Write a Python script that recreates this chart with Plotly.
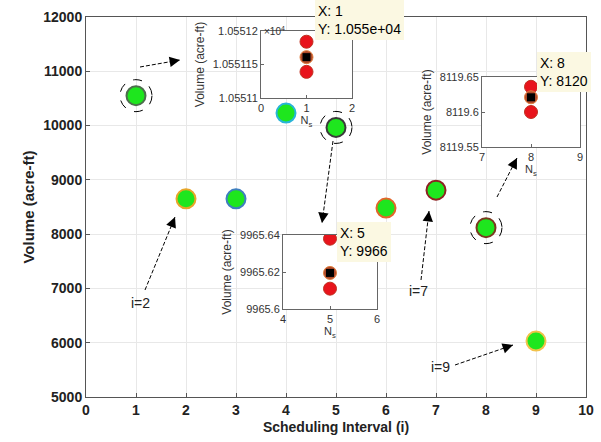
import plotly.graph_objects as go

# ---- main data ----
intervals = [1, 2, 3, 4, 5, 6, 7, 8, 9]
volumes = [10551, 8650, 8650, 10230, 9966, 8480, 8810, 8120, 6030]
edge_colors = ["#4d6e4d", "#e8a628", "#3f7fbf", "#28b4d8", "#3a3a3a",
               "#e2662a", "#8e2222", "#7a3a20", "#f2c24a"]
circled = [1, 5, 8]

x_ticks = list(range(0, 11))
y_ticks = list(range(5000, 12001, 1000))

# ---- inset data ----
in1_x = [1, 1, 1]
in1_y = [10551.184, 10551.161, 10551.139]
in1_ytick = [10551.1, 10551.15, 10551.2]
in1_ytext = ["1.05511", "1.055115", "1.05512"]

in2_x = [5, 5, 5]
in2_y = [9965.638, 9965.6195, 9965.611]
in2_ytick = [9965.6, 9965.62, 9965.64]
in2_ytext = ["9965.6", "9965.62", "9965.64"]

in3_x = [8, 8, 8]
in3_y = [8119.636, 8119.621, 8119.60]
in3_ytick = [8119.55, 8119.6, 8119.65]
in3_ytext = ["8119.55", "8119.6", "8119.65"]

GREEN = "#1ee61e"
FONT = "Liberation Sans, Arial, sans-serif"

fig = go.Figure()

fig.add_trace(go.Scatter(
    x=intervals, y=volumes, mode="markers",
    marker=dict(size=19, color=GREEN, line=dict(color=edge_colors, width=2)),
    xaxis="x", yaxis="y", showlegend=False, hoverinfo="x+y"))

def inset(xs, ys, xa, ya):
    fig.add_trace(go.Scatter(x=[xs[0], xs[2]], y=[ys[0], ys[2]], mode="markers",
                             marker=dict(size=13, color="#e8141c", line=dict(color="#c03020", width=1)),
                             xaxis=xa, yaxis=ya, showlegend=False))
    fig.add_trace(go.Scatter(x=[xs[1]], y=[ys[1]], mode="markers",
                             marker=dict(size=13, color="#b04a2a", line=dict(color="#e08040", width=1)),
                             xaxis=xa, yaxis=ya, showlegend=False))
    fig.add_trace(go.Scatter(x=[xs[1]], y=[ys[1]], mode="markers",
                             marker=dict(size=8, color="black", symbol="square"),
                             xaxis=xa, yaxis=ya, showlegend=False))

inset(in1_x, in1_y, "x2", "y2")
inset(in2_x, in2_y, "x3", "y3")
inset(in3_x, in3_y, "x4", "y4")

L, R, T, B = 86, 15, 17, 45
W, H = 601, 442
pw, ph = W - L - R, H - T - B

def px(xp):
    return (xp - L) / pw

def py(yp):
    return (H - B - yp) / ph

main_ax = dict(showline=True, linecolor="#555555", linewidth=1, mirror=True,
               ticks="inside", ticklen=4, tickcolor="#555555",
               showgrid=True, gridcolor="#e8e8e8", zeroline=False, automargin=False)

inset_ax = dict(showline=True, linecolor="#666666", linewidth=1, mirror=True,
                ticks="inside", ticklen=3, tickcolor="#666666",
                showgrid=False, zeroline=False, automargin=False,
                tickfont=dict(family=FONT, size=11, color="#333333"))

def ins_x(dom, rng, tv, anchor):
    d = dict(inset_ax)
    d.update(domain=dom, range=rng, tickvals=tv, anchor=anchor,
             title=dict(text="N<sub>s</sub>", font=dict(family=FONT, size=11, color="#333"), standoff=2))
    return d

def ins_y(dom, rng, tv, tt, anchor):
    d = dict(inset_ax)
    d.update(domain=dom, range=rng, tickvals=tv, ticktext=tt, anchor=anchor,
             title=dict(text="Volume (acre-ft)", font=dict(family=FONT, size=12, color="#333"), standoff=5))
    return d

fig.update_layout(
    width=W, height=H,
    margin=dict(l=L, r=R, t=T, b=B),
    paper_bgcolor="white", plot_bgcolor="white",
    font=dict(family=FONT),
    xaxis=dict(main_ax, range=[0, 10], tickvals=x_ticks, domain=[0, 1], tickformat="d",
               tickfont=dict(family=FONT, size=14, color="#222", weight="bold"),
               title=dict(text="<b>Scheduling Interval (i)</b>", font=dict(family=FONT, size=14, color="#222"), standoff=5)),
    yaxis=dict(main_ax, range=[5000, 12000], tickvals=y_ticks, domain=[0, 1], tickformat="d",
               tickfont=dict(family=FONT, size=14, color="#222", weight="bold"),
               title=dict(text="<b>Volume (acre-ft)</b>", font=dict(family=FONT, size=15, color="#222"), standoff=5)),
    xaxis2=ins_x([px(261), px(352)], [0, 2], [0, 1, 2], "y2"),
    yaxis2=ins_y([py(98), py(31)], [10551.1, 10551.2], in1_ytick, in1_ytext, "x2"),
    xaxis3=ins_x([px(283), px(377)], [4, 6], [4, 5, 6], "y3"),
    yaxis3=ins_y([py(309), py(235)], [9965.6, 9965.64], in2_ytick, in2_ytext, "x3"),
    xaxis4=ins_x([px(482), px(580)], [7, 9], [7, 8, 9], "y4"),
    yaxis4=ins_y([py(147), py(77)], [8119.55, 8119.65], in3_ytick, in3_ytext, "x4"),
)

# dashed circles around selected points
for i in circled:
    v = volumes[intervals.index(i)]
    fig.add_shape(type="circle", xref="x", yref="y", xsizemode="pixel", ysizemode="pixel",
                  xanchor=i, yanchor=v, x0=-16, x1=16, y0=-16, y1=16,
                  line=dict(color="black", width=1, dash="dash"))

def dx(xp):
    return (xp - L) / pw * 10

def dy(yp):
    return 12000 - (yp - T) / ph * 7000

arrows = [((140, 67), (180, 60)),
          ((145, 290), (175, 217)),
          ((333, 141), (322, 223)),
          ((421, 280), (429, 211)),
          ((497, 197), (517, 158)),
          ((455, 365), (513, 345))]
for (x0, y0), (x1, y1) in arrows:
    fig.add_shape(type="line", xref="x", yref="y", x0=dx(x0), y0=dy(y0), x1=dx(x1), y1=dy(y1),
                  line=dict(color="black", width=1, dash="4px,2px"))
    ddx, ddy = x1 - x0, y1 - y0
    n = (ddx ** 2 + ddy ** 2) ** 0.5
    fig.add_annotation(x=dx(x1), y=dy(y1), xref="x", yref="y", text="", showarrow=True,
                       ax=-ddx / n * 6, ay=-ddy / n * 6, arrowhead=2, arrowsize=1.6,
                       arrowwidth=1.3, arrowcolor="black", standoff=0)

labels = [("i=2", 140, 303), ("i=7", 418, 291), ("i=9", 440, 367)]
for t, xp, yp in labels:
    fig.add_annotation(x=dx(xp), y=dy(yp), xref="x", yref="y", text=t, showarrow=False,
                       font=dict(family=FONT, size=14, color="#222"))

fig.add_annotation(x=px(262), y=py(23), xref="paper", yref="paper", text="×10<sup>4</sup>",
                   showarrow=False, xanchor="left", font=dict(family=FONT, size=10, color="#333"))

tips = [("X: 1<br>Y: 1.055e+04", 315, 0, 412, 50),
        ("X: 5<br>Y: 9966", 337, 222, 393, 265),
        ("X: 8<br>Y: 8120", 537, 52, 597, 93)]
for t, x0, y0, x1, y1 in tips:
    fig.add_annotation(x=px(x0), y=py(y0), xref="paper", yref="paper", text=t, showarrow=False,
                       xanchor="left", yanchor="top", align="left",
                       bgcolor="#fbf8e2", borderpad=3, borderwidth=0,
                       font=dict(family=FONT, size=14, color="black"))

fig.write_html("out.html", config={"displayModeBar": False},
               post_script="document.body.style.margin='0px';")
